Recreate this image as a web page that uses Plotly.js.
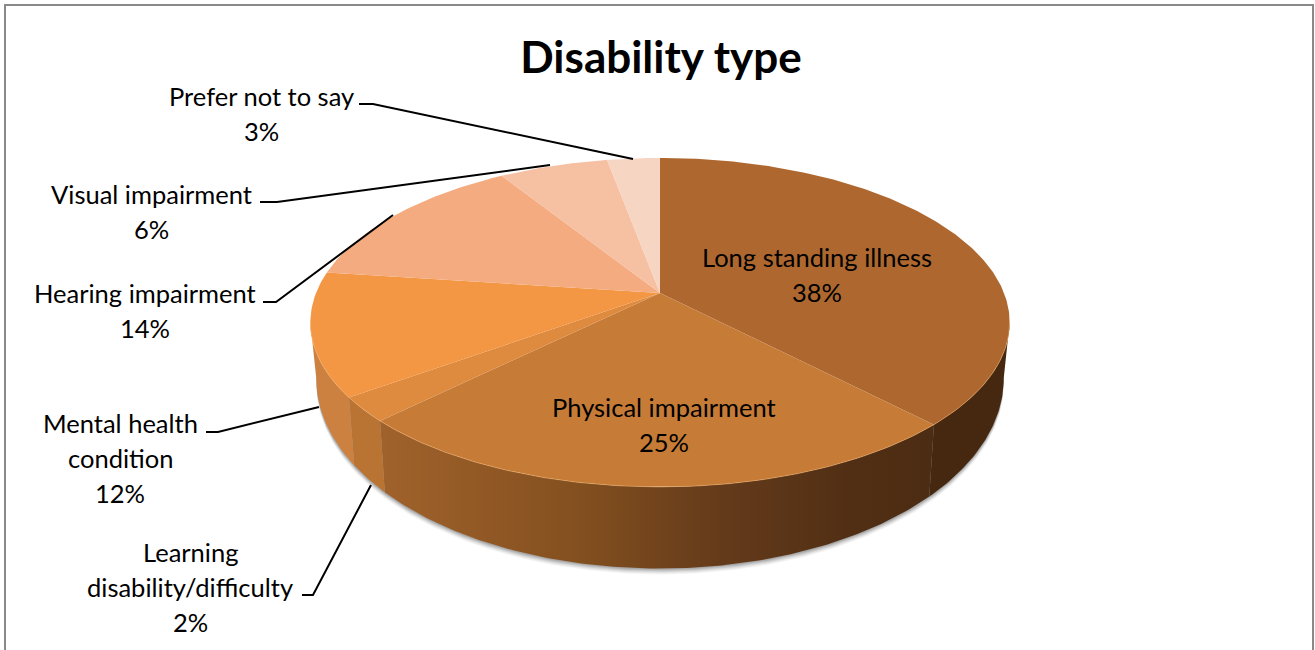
<!DOCTYPE html>
<html>
<head>
<meta charset="utf-8">
<script src="https://cdn.plot.ly/plotly-3.0.1.min.js"></script>
<style>html,body{margin:0;padding:0;background:#fff}#chart{width:1315px;height:650px}</style>
</head>
<body>
<div id="chart"></div>
<script>
// ---- data ----
const categories = ['Long standing illness','Physical impairment','Learning disability/difficulty','Mental health condition','Hearing impairment','Visual impairment','Prefer not to say'];
const values = [37.8, 24.8, 2.4, 12.1, 14, 6, 2.9];
const labelBreaks = ['Long standing illness','Physical impairment','Learning<br>disability/difficulty','Mental health<br>condition','Hearing impairment','Visual impairment','Prefer not to say'];

// ---- styles ----
const topColors = ['#ae682f','#c67b37','#de8a3f','#f49744','#f4ab7f','#f6c0a3','#f7d5c3'];
const wallColors = ['#45280f',null,'#b97333','#cc8140','#f49744','#f6c0a3','#f7d5c3'];
const FONT = 'Lato, Carlito, sans-serif';

// ---- projection of a tilted disc onto the axes ----
const CX = 660, CY = 293, A = 344, B = 159.2, P = 0.179;
function project(frac) {
  const a = frac * 2 * Math.PI, u = Math.sin(a), v = Math.cos(a), w = 1 + P * v;
  return [CX + A * u / w, CY - B * v / w];
}
// lower rim of the disc: the upper rim re-centred and re-scaled for perspective
const RIM_CY = 322, LOW_CY = 378, LOW_SY = 190 / 164.5, LOW_SX = 0.983;
function projectLow(frac, extra) {
  const p = project(frac);
  return [CX + LOW_SX * (p[0] - CX), LOW_CY + LOW_SY * (p[1] - RIM_CY) + (extra || 0)];
}
function arcBy(fn, f0, f1, extra) {
  const n = Math.max(2, Math.ceil(Math.abs(f1 - f0) / 0.002)), pts = [];
  for (let i = 0; i <= n; i++) pts.push(fn(f0 + (f1 - f0) * i / n, extra));
  return pts;
}
function xy(pts) { return {x: pts.map(p => p[0]), y: pts.map(p => p[1])}; }

const fR = Math.acos(-P) / (2 * Math.PI), fL = 1 - fR;
const total = values.reduce((s, v) => s + v, 0);
const traces = [];

// soft shadow under the wall
[[6,0.05],[5,0.06],[4,0.08],[3,0.10],[2,0.12],[1,0.14]].forEach(function (sh) {
  const pts = arcBy(projectLow, fR - 0.01, fL + 0.01, sh[0]).concat(arcBy(project, fL, fR));
  traces.push(Object.assign({type:'scatter', mode:'lines', fill:'toself', line:{width:0},
    fillcolor:'rgba(60,60,60,'+sh[1]+')', hoverinfo:'skip', showlegend:false}, xy(pts)));
});

// walls
let acc = 0;
values.forEach(function (val, i) {
  const f0 = acc / total, f1 = (acc + val) / total; acc += val;
  const s = Math.max(f0, fR), e = Math.min(f1, fL);
  if (e <= s) return;
  const pts = arcBy(project, s, e).concat(arcBy(projectLow, e, s));
  const t = Object.assign({type:'scatter', mode:'lines', fill:'toself', line:{width:0},
    hoverinfo:'skip', showlegend:false}, xy(pts));
  if (wallColors[i]) t.fillcolor = wallColors[i];
  else {
    t.fillcolor = '#70431f';
    t.fillgradient = {type:'horizontal', start:382, stop:932,
      colorscale:[[0,'#a0622c'],[0.35,'#84501f'],[0.6,'#663c1b'],[0.85,'#512f14'],[1,'#4c2c13']]};
  }
  traces.push(t);
});

// top face
acc = 0;
values.forEach(function (val, i) {
  const f0 = acc / total, f1 = (acc + val) / total; acc += val;
  const pts = [[CX, CY]].concat(arcBy(project, f0, f1)).concat([[CX, CY]]);
  traces.push(Object.assign({type:'scatter', mode:'lines', fill:'toself', line:{width:0},
    fillcolor:topColors[i], name:categories[i], text:Math.round(val)+'%', hoverinfo:'name+text',
    showlegend:false}, xy(pts)));
});

// light rim along the front edge
traces.push(Object.assign({type:'scatter', mode:'lines', line:{width:1, color:'rgba(255,190,120,0.45)'},
  hoverinfo:'skip', showlegend:false}, xy(arcBy(project, fR, fL))));

// ---- layout furniture ----
const labelCenters = [[817,257],[664,407],[190,552],[120,423],[145,293],[151,194],[261,96]];
const lineGap = 35;
const annotations = [];
labelBreaks.forEach(function (txt, i) {
  const lines = txt.split('<br>').concat([Math.round(values[i]) + '%']);
  lines.forEach(function (ln, k) {
    annotations.push({xref:'x', yref:'y', x:labelCenters[i][0], y:labelCenters[i][1] + k * lineGap, text:ln,
      showarrow:false, xanchor:'center', yanchor:'middle', font:{family:FONT, size:25.5, color:'#000'}});
  });
});
const leaders = ['M359 104 L373 104 L633 159','M260 202 L277 202 L550 165','M263 302 L276 302 L393 215','M206 432 L218 432 L319 407','M302 595 L313 595 L371 485'];
const shapes = leaders.map(p => ({type:'path', xref:'x', yref:'y', path:p, line:{color:'#000', width:2}, layer:'above'}));
shapes.push({type:'path', xref:'x', yref:'y', path:'M5 670 L5 5 L1313 5 L1313 670', line:{color:'#898989', width:2}, layer:'below'});

Plotly.newPlot('chart', traces, {
  width:1315, height:650, margin:{l:0,r:0,t:0,b:0}, paper_bgcolor:'#fff', plot_bgcolor:'#fff', showlegend:false,
  title:{text:'<b>Disability type</b>', x:661/1315, xanchor:'center', xref:'paper', y:1-58/650, yanchor:'middle', yref:'paper',
    font:{family:FONT, size:44, color:'#000'}},
  xaxis:{range:[0,1315], visible:false, fixedrange:true},
  yaxis:{range:[650,0], visible:false, fixedrange:true},
  annotations:annotations, shapes:shapes
}, {displayModeBar:false, responsive:false});
</script>
</body>
</html>
